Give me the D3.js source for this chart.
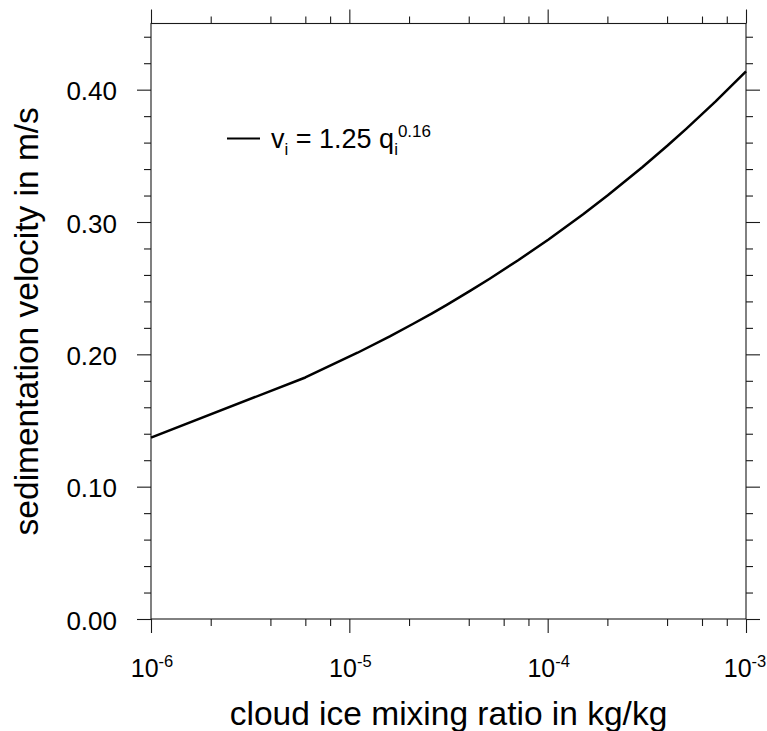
<!DOCTYPE html>
<html>
<head>
<meta charset="utf-8">
<script src="https://cdn.jsdelivr.net/npm/d3@7"></script>
<style>
  html, body { margin: 0; padding: 0; background: #fff; }
  svg { display: block; font-family: "Liberation Sans", Arial, Helvetica, sans-serif; }
</style>
</head>
<body>
<svg id="chart" width="767" height="731"></svg>
<script>
// cloud ice mixing ratio samples (kg/kg) and sedimentation velocity (m/s)
const qValues = [1e-6, 6e-6, 1.1e-5, 1.6e-5, 2.1e-5, 2.6e-5, 3.1e-5, 4.1e-5, 5.1e-5,
                 7.1e-5, 1.01e-4, 1.51e-4, 2.01e-4, 3.01e-4, 4.01e-4, 5.01e-4, 7.01e-4, 1e-3];
const vValues = [0.1371, 0.1825, 0.2012, 0.2136, 0.2231, 0.2308, 0.2374, 0.2483, 0.2571,
                 0.2711, 0.2868, 0.3059, 0.3202, 0.3416, 0.3576, 0.3706, 0.3910, 0.4139];

// tick positions and labels
const xMajorTicks = [1e-6, 1e-5, 1e-4, 1e-3];
const xMajorExponents = ["-6", "-5", "-4", "-3"];
const xMinorFactors = [2, 4, 6, 8];
const yMajorTicks = [0.0, 0.1, 0.2, 0.3, 0.4];
const yMinorStep = 0.02;
const yMax = 0.45;

const legendLabel = { base: "v", sub: "i", mid: " = 1.25 q", sub2: "i", sup: "0.16" };
const xTitle = "cloud ice mixing ratio in kg/kg";
const yTitle = "sedimentation velocity in m/s";

const svg = d3.select("#chart");
const L = 151, R = 746, T = 23.5, B = 619;

const x = d3.scaleLog().domain([1e-6, 1e-3]).range([L, R]);
const y = d3.scaleLinear().domain([0, yMax]).range([B, T]);

const xMinorTicks = [];
xMajorTicks.slice(0, -1).forEach(d => xMinorFactors.forEach(f => xMinorTicks.push(d * f)));
const yMinorTicks = d3.range(0, yMax + 1e-9, yMinorStep)
  .map(v => +v.toFixed(2))
  .filter(v => !yMajorTicks.some(m => Math.abs(m - v) < 1e-9));

const axisColor = "#1a1a1a";
const axisWidth = 1.1;

function styleAxis(g) {
  g.selectAll("path.domain").remove();
  g.selectAll(".tick line").attr("stroke", axisColor).attr("stroke-width", axisWidth);
  g.selectAll(".tick text").remove();
}

// outward ticks on all four sides
[
  [d3.axisBottom, xMajorTicks, 14, x, "translate(0," + B + ")"],
  [d3.axisBottom, xMinorTicks, 7, x, "translate(0," + B + ")"],
  [d3.axisTop, xMajorTicks, 14, x, "translate(0," + T + ")"],
  [d3.axisTop, xMinorTicks, 7, x, "translate(0," + T + ")"],
  [d3.axisLeft, yMajorTicks, 14, y, "translate(" + L + ",0)"],
  [d3.axisLeft, yMinorTicks, 7, y, "translate(" + L + ",0)"],
  [d3.axisRight, yMajorTicks, 14, y, "translate(" + R + ",0)"],
  [d3.axisRight, yMinorTicks, 7, y, "translate(" + R + ",0)"]
].forEach(([axisFn, vals, size, scale, tr]) => {
  svg.append("g")
    .attr("transform", tr)
    .call(axisFn(scale).tickValues(vals).tickSize(size).tickSizeOuter(0))
    .call(styleAxis);
});

// plot frame
svg.append("rect")
  .attr("x", L).attr("y", T)
  .attr("width", R - L).attr("height", B - T)
  .attr("fill", "none")
  .attr("stroke", axisColor)
  .attr("stroke-width", axisWidth);

// y tick labels
svg.append("g").selectAll("text")
  .data(yMajorTicks)
  .join("text")
  .attr("x", 117)
  .attr("y", d => y(d) + 10.5)
  .attr("text-anchor", "end")
  .attr("font-size", 26)
  .attr("fill", "#000")
  .text(d3.format(".2f"));

// x tick labels: powers of ten
const xLab = svg.append("g").selectAll("text")
  .data(xMajorTicks)
  .join("text")
  .attr("x", (d, i) => x(d) + (i === xMajorTicks.length - 1 ? -1 : 1))
  .attr("y", 677)
  .attr("text-anchor", "middle")
  .attr("font-size", 25)
  .attr("fill", "#000");
xLab.append("tspan").text("10");
xLab.append("tspan")
  .attr("dy", -10)
  .attr("font-size", 16.5)
  .text((d, i) => xMajorExponents[i]);

// curve
const line = d3.line()
  .x((d, i) => x(qValues[i]))
  .y(d => y(d));
svg.append("path")
  .datum(vValues)
  .attr("d", line)
  .attr("fill", "none")
  .attr("stroke", "#000")
  .attr("stroke-width", 2.5)
  .attr("stroke-linejoin", "round");

// legend
svg.append("line")
  .attr("x1", 227).attr("x2", 260)
  .attr("y1", 138.5).attr("y2", 138.5)
  .attr("stroke", "#000")
  .attr("stroke-width", 2.2);
const leg = svg.append("text")
  .attr("x", 271)
  .attr("y", 147.5)
  .attr("font-size", 27)
  .attr("fill", "#000");
leg.append("tspan").text(legendLabel.base);
leg.append("tspan").attr("dy", 7).attr("font-size", 17).text(legendLabel.sub);
leg.append("tspan").attr("dy", -7).text(legendLabel.mid);
leg.append("tspan").attr("dy", 7).attr("font-size", 17).text(legendLabel.sub2);
leg.append("tspan").attr("dy", -17.5).attr("font-size", 17).text(legendLabel.sup);

// axis titles
svg.append("text")
  .attr("x", (L + R) / 2)
  .attr("y", 725)
  .attr("text-anchor", "middle")
  .attr("font-size", 33.5)
  .attr("fill", "#000")
  .text(xTitle);

svg.append("text")
  .attr("transform", "translate(38," + (T + B) / 2 + ") rotate(-90)")
  .attr("text-anchor", "middle")
  .attr("font-size", 33.5)
  .attr("fill", "#000")
  .text(yTitle);
</script>
</body>
</html>
